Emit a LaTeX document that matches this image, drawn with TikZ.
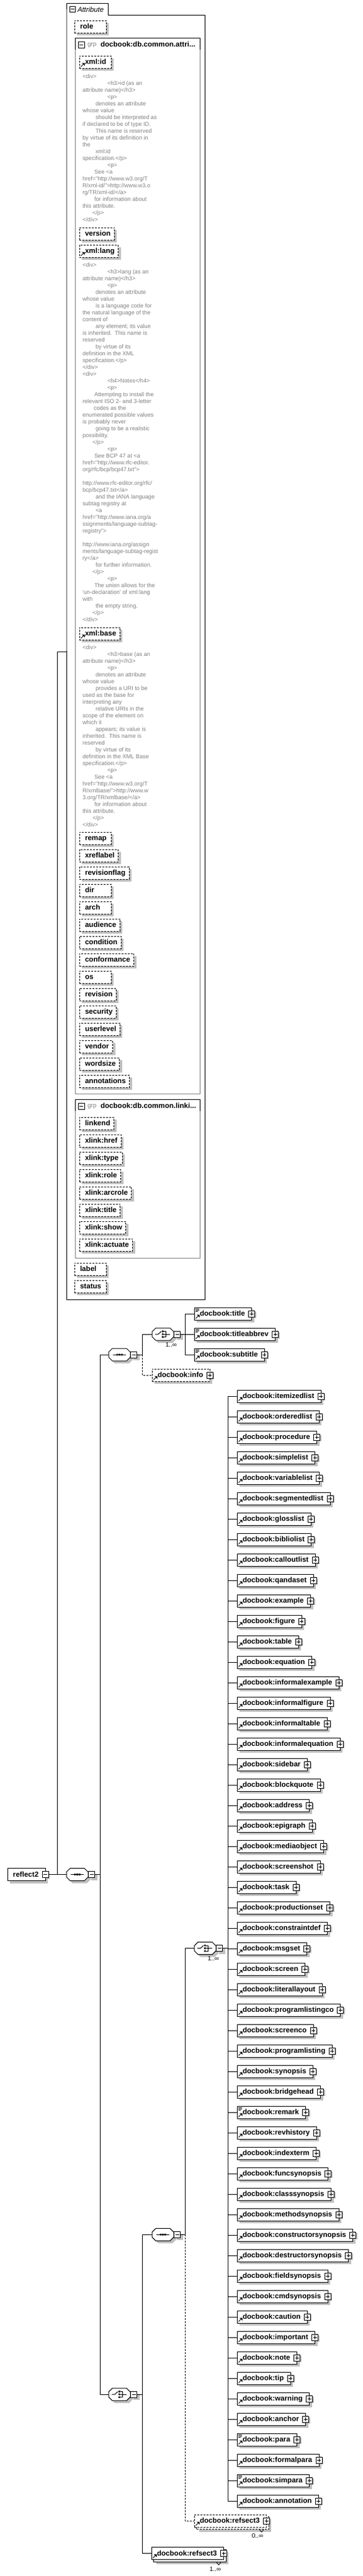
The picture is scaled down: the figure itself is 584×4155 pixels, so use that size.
\documentclass[tikz,border=0pt]{standalone}
\usepackage{fontspec}
\setmainfont{Liberation Sans}
\usetikzlibrary{calc}
\definecolor{shadowgray}{RGB}{192,192,192}
\definecolor{docgray}{RGB}{128,128,128}
\definecolor{grpgray}{RGB}{128,128,128}
\newcommand\elfont{\fontsize{11.6pt}{13pt}\selectfont\bfseries}
\newcommand\docfont{\fontsize{9.2pt}{11pt}\selectfont}
\newcommand\grpfont{\fontsize{10pt}{12pt}\selectfont}
\newlength\tmpw
\newcommand\attrtext[1]{\settowidth\tmpw{#1}\hspace*{9pt}#1\ifdim\tmpw<36pt\hspace*{\dimexpr36pt-\tmpw\relax}\fi\hspace*{6pt}}
\newcommand\eltext[1]{\hspace*{9pt}#1\hspace*{11pt}}
\newcounter{dlc}
\tikzset{
  every node/.append style={inner sep=0pt, outer sep=0pt},
  doc/.style={anchor=base west, font=\docfont, text=docgray},
  boxbase/.style={minimum height=20pt, text height=8.5pt, text depth=1.4pt, anchor=west, font=\elfont},
  elbox/.style={boxbase, draw, line width=1pt, fill=white},
  shbox/.style={boxbase, fill=shadowgray, text=shadowgray},
  backbox/.style={boxbase, draw, line width=1pt, fill=white, text opacity=0},
  opt/.style={dash pattern=on 3pt off 2pt},
  btn/.style={draw, line width=1pt, fill=white, minimum size=10pt},
  btnsh/.style={fill=shadowgray, minimum size=10pt},
  conn/.style={line width=1pt},
  optconn/.style={line width=1pt, dash pattern=on 3pt off 2pt},
  lbl/.style={font=\fontsize{10pt}{12pt}\selectfont},
  txt/.style={anchor=west, text height=8.5pt, text depth=1.4pt},
}
\newcommand\dl[3]{\stepcounter{dlc}\node[doc] (dl\arabic{dlc}) at (#1,#2+3.3) {#3};}
\newcommand\refarrow[1]{%
  \draw[line width=0.9pt] ([shift={(2.5,-2.5)}]#1.south west) -- ([shift={(6,-6)}]#1.south west);
  \fill ([shift={(8.5,-8.5)}]#1.south west) -- ([shift={(4,-8.5)}]#1.south west) -- ([shift={(8.5,-4)}]#1.south west) -- cycle;}
\newcommand\mixicon[1]{\draw[line width=0.8pt] ([shift={(2,2.5)}]#1.north west) -- ++(6,0) ([shift={(2,4.5)}]#1.north west) -- ++(6,0) ([shift={(2,6.5)}]#1.north west) -- ++(4,0);}
\newcommand\plusin[1]{\draw[line width=1pt] ([xshift=-3pt]#1.center) -- ([xshift=3pt]#1.center) ([yshift=-3pt]#1.center) -- ([yshift=3pt]#1.center);}
% element: [style]{name}{x}{ycenter}{text}
\newcommand\elem[5][]{%
  \node[shbox] (#2s) at (#3+4,#4+4) {\eltext{#5}};
  \node[btnsh] at ([shift={(-2,-2)}]#2s.east) {};
  \node[elbox,#1] (#2) at (#3,#4) {\eltext{#5}};
  \node[btn] (#2b) at (#2.east) {};
  \plusin{#2b}
  \refarrow{#2}}
% repeated element
\newcommand\multielem[5][]{%
  \node[shbox] (#2s) at (#3+7.5,#4+7.5) {\eltext{#5}};
  \node[btnsh] at ([shift={(-5.5,-5.5)}]#2s.east) {};
  \node[backbox,#1] (#2k) at (#3+3.5,#4+3.5) {\eltext{#5}};
  \node[elbox,#1] (#2) at (#3,#4) {\eltext{#5}};
  \node[btn] (#2b) at (#2.east) {};
  \plusin{#2b}
  \refarrow{#2}}
% attribute: {name}{x}{ytop}{text}
\newcommand\attr[4]{%
  \node[shbox] at (#2+4,#3+14) {\attrtext{#4}};
  \node[elbox,opt] (#1) at (#2,#3+10) {\attrtext{#4}};}
\newcommand\octdraw[1]{\path[#1] (0,-4) -- (6,-10) -- (29,-10) -- (35,-4) -- (35,4) -- (29,10) -- (6,10) -- (0,4) -- cycle;}
\newcommand\seqicon{\draw[line width=1pt] (7,0) -- (28,0); \fill (12.5,-1.4) rectangle (15.1,1.4) (16.2,-1.4) rectangle (18.8,1.4) (19.9,-1.4) rectangle (22.5,1.4);}
\newcommand\choicon{\draw[line width=1pt] (5,0) -- (10,0) -- (15,-4.5); \fill (16,-5.8) rectangle (18.6,-3.2) (16,-1.3) rectangle (18.6,1.3) (16,3.2) rectangle (18.6,5.8); \draw[line width=1pt] (19,-4.5) -- (22,-4.5) -- (22,4.5) -- (19,4.5) (19,0) -- (29,0);}
% compositor: {name}{x}{y}{icon}
\newcommand\comp[4]{%
  \begin{scope}[shift={(#2,#3)}]
    \octdraw{fill=shadowgray, shift={(4,4)}}
    \node[btnsh] at (44.5,4) {};
    \octdraw{draw, fill=white, line width=1pt}
    \node[minimum width=35pt, minimum height=20pt, anchor=west] (#1) at (0,0) {};
    #4
    \node[btn] (#1m) at (40.5,0) {};
    \draw[line width=1pt] (37.5,0) -- (43.5,0);
  \end{scope}}
\begin{document}
\begin{tikzpicture}[x=1pt,y=-1pt]
\fill[white] (0,0) rectangle (584,4155);
\useasboundingbox (0,0) rectangle (584,4155);

% ===== attribute frame =====
\draw[line width=1pt] (107,24) -- (107,2096) -- (330,2096) -- (330,24) -- (174,24) -- (174,5) -- (107,5) -- cycle;
\node[btn, minimum size=9pt] (atb) at (117,14.5) {};
\draw[line width=1pt] (114,14.5) -- (120,14.5);
\node[anchor=west, font=\fontsize{11.3pt}{13pt}\selectfont\itshape, text height=8pt, text depth=0pt] (attit) at (125,15) {Attribute};
\coordinate (attrL) at (107,1051);

\attr{arole}{120}{33}{role}

% group 1
\draw[grpgray, line width=1pt] (121,61) rectangle (322,1764);
\draw[line width=1pt] (121,80) -- (121,61) -- (322,61) -- (322,80);
\node[btn] (g1b) at (131,72) {};
\draw[line width=1pt] (128,72) -- (134,72);
\node[anchor=west, font=\grpfont, text=docgray, text height=7pt, text depth=1.2pt] (g1grp) at (141,72) {grp};
\node[txt, font=\elfont] (g1name) at (162,72) {docbook:db.common.attri...};

\attr{axmlid}{128}{90}{xml:id}\refarrow{axmlid}
\dl{133}{123}{<div>}
\dl{173}{134}{<h3>id (as an}
\dl{133}{145}{attribute name)</h3>}
\dl{173}{156}{<p>}
\dl{154}{167}{denotes an attribute}
\dl{133}{178}{whose value}
\dl{154}{189}{should be interpreted as}
\dl{133}{200}{if declared to be of type ID.}
\dl{154}{211}{This name is reserved}
\dl{133}{222}{by virtue of its definition in}
\dl{133}{233}{the}
\dl{154}{244}{xml:id}
\dl{133}{255}{specification.</p>}
\dl{173}{266}{<p>}
\dl{152}{277}{See <a}
\dl{133}{288}{href="http://www.w3.org/T}
\dl{133}{299}{R/xml-id/">http://www.w3.o}
\dl{133}{310}{rg/TR/xml-id/</a>}
\dl{152}{321}{for information about}
\dl{133}{332}{this attribute.}
\dl{149}{343}{</p>}
\dl{133}{354}{</div>}

\attr{aversion}{128}{367}{version}
\attr{axmllang}{128}{395}{xml:lang}\refarrow{axmllang}
\dl{133}{427}{<div>}
\dl{173}{438}{<h3>lang (as an}
\dl{133}{449}{attribute name)</h3>}
\dl{173}{460}{<p>}
\dl{154}{471}{denotes an attribute}
\dl{133}{482}{whose value}
\dl{154}{493}{is a language code for}
\dl{133}{504}{the natural language of the}
\dl{133}{515}{content of}
\dl{154}{526}{any element; its value}
\dl{133}{537}{is inherited.\ \ This name is}
\dl{133}{548}{reserved}
\dl{154}{559}{by virtue of its}
\dl{133}{570}{definition in the XML}
\dl{133}{581}{specification.</p>}
\dl{133}{592}{</div>}
\dl{133}{603}{<div>}
\dl{173}{614}{<h4>Notes</h4>}
\dl{173}{625}{<p>}
\dl{152}{636}{Attempting to install the}
\dl{133}{647}{relevant ISO 2- and 3-letter}
\dl{151}{658}{codes as the}
\dl{133}{669}{enumerated possible values}
\dl{133}{680}{is probably never}
\dl{154}{691}{going to be a realistic}
\dl{133}{702}{possibility.}
\dl{149}{713}{</p>}
\dl{173}{724}{<p>}
\dl{152}{735}{See BCP 47 at <a}
\dl{133}{746}{href="http://www.rfc-editor.}
\dl{133}{757}{org/rfc/bcp/bcp47.txt">}
\dl{133}{779}{http://www.rfc-editor.org/rfc/}
\dl{133}{790}{bcp/bcp47.txt</a>}
\dl{154}{801}{and the IANA language}
\dl{133}{812}{subtag registry at}
\dl{154}{823}{<a}
\dl{133}{834}{href="http://www.iana.org/a}
\dl{133}{845}{ssignments/language-subtag-}
\dl{133}{856}{registry">}
\dl{133}{878}{http://www.iana.org/assign}
\dl{133}{889}{ments/language-subtag-regist}
\dl{133}{900}{ry</a>}
\dl{154}{911}{for further information.}
\dl{149}{922}{</p>}
\dl{173}{933}{<p>}
\dl{152}{944}{The union allows for the}
\dl{133}{955}{\textquotesingle un-declaration\textquotesingle\ of xml:lang}
\dl{133}{966}{with}
\dl{154}{977}{the empty string.}
\dl{149}{988}{</p>}
\dl{133}{999}{</div>}

\attr{axmlbase}{128}{1012}{xml:base}\refarrow{axmlbase}
\dl{133}{1044}{<div>}
\dl{173}{1055}{<h3>base (as an}
\dl{133}{1066}{attribute name)</h3>}
\dl{173}{1077}{<p>}
\dl{154}{1088}{denotes an attribute}
\dl{133}{1099}{whose value}
\dl{154}{1110}{provides a URI to be}
\dl{133}{1121}{used as the base for}
\dl{133}{1132}{interpreting any}
\dl{154}{1143}{relative URIs in the}
\dl{133}{1154}{scope of the element on}
\dl{133}{1165}{which it}
\dl{154}{1176}{appears; its value is}
\dl{133}{1187}{inherited.\ \ This name is}
\dl{133}{1198}{reserved}
\dl{154}{1209}{by virtue of its}
\dl{133}{1220}{definition in the XML Base}
\dl{133}{1231}{specification.</p>}
\dl{173}{1242}{<p>}
\dl{152}{1253}{See <a}
\dl{133}{1264}{href="http://www.w3.org/T}
\dl{133}{1275}{R/xmlbase/">http://www.w}
\dl{133}{1286}{3.org/TR/xmlbase/</a>}
\dl{152}{1297}{for information about}
\dl{133}{1308}{this attribute.}
\dl{149}{1319}{</p>}
\dl{133}{1330}{</div>}

\foreach \nm/\yy [count=\k] in {remap/1342, xreflabel/1370, revisionflag/1398, dir/1426, arch/1454, audience/1482, condition/1510, conformance/1538, os/1566, revision/1594, security/1622, userlevel/1650, vendor/1678, wordsize/1706, annotations/1734}
  {\attr{ga\k}{128}{\yy}{\nm}}

% group 2
\draw[grpgray, line width=1pt] (121,1773) rectangle (322,2029);
\draw[line width=1pt] (121,1792) -- (121,1773) -- (322,1773) -- (322,1792);
\node[btn] (g2b) at (131,1784) {};
\draw[line width=1pt] (128,1784) -- (134,1784);
\node[anchor=west, font=\grpfont, text=docgray, text height=7pt, text depth=1.2pt] (g2grp) at (141,1784) {grp};
\node[txt, font=\elfont] (g2name) at (162,1784) {docbook:db.common.linki...};
\foreach \nm/\yy [count=\k] in {linkend/1802, xlink:href/1830, xlink:type/1858, xlink:role/1886, xlink:arcrole/1914, xlink:title/1942, xlink:show/1970, xlink:actuate/1998}
  {\attr{gb\k}{128}{\yy}{\nm}}

\attr{alabel}{120}{2037}{label}
\attr{astatus}{120}{2065}{status}

% ===== root element =====
\node[shbox] (r2s) at (16,3027.5) {\eltext{reflect2}};
\node[btnsh] at ([shift={(-2,-2)}]r2s.east) {};
\node[elbox] (r2) at (12,3023.5) {\eltext{reflect2}};
\node[btn] (r2b) at (r2.east) {};
\draw[line width=1pt] ([xshift=-3pt]r2b.center) -- ([xshift=3pt]r2b.center);

% ===== compositors =====
\comp{S0}{107}{3023.5}{\seqicon}
\comp{S1}{175}{2185}{\seqicon}
\comp{C1}{245}{2152}{\choicon}
\comp{C2}{175}{3862}{\choicon}
\comp{S2}{245}{3604.25}{\seqicon}
\comp{C3}{313}{3142.5}{\choicon}

% ===== title part =====
\elem{t1}{313}{2119}{docbook:title}\mixicon{t1}
\elem{t2}{313}{2152}{docbook:titleabbrev}\mixicon{t2}
\elem{t3}{313}{2185}{docbook:subtitle}\mixicon{t3}
\elem[opt]{info}{245}{2218}{docbook:info}
\node[lbl, anchor=north east] (C1l) at (285,2166) {1..∞};

% ===== block list =====
\foreach \nm [count=\i from 0] in {itemizedlist,orderedlist,procedure,simplelist,variablelist,segmentedlist,glosslist,bibliolist,calloutlist,qandaset,example,figure,table,equation,informalexample,informalfigure,informaltable,informalequation,sidebar,blockquote,address,epigraph,mediaobject,screenshot,task,productionset,constraintdef,msgset,screen,literallayout,programlistingco,screenco,programlisting,synopsis,bridgehead,remark,revhistory,indexterm,funcsynopsis,classsynopsis,methodsynopsis,constructorsynopsis,destructorsynopsis,fieldsynopsis,cmdsynopsis,caution,important,note,tip,warning,anchor,para,formalpara,simpara,annotation}
  {\elem{e\i}{382}{2252+33*\i}{docbook:\nm}}
\foreach \k in {35,51,53} {\mixicon{e\k}}
\node[lbl, anchor=north east] (C3l) at (353,3156) {1..∞};

% ===== refsect3 =====
\multielem[opt]{rsa}{313}{4066}{docbook:refsect3}
\draw[line width=0.8pt] (418,4080) -- (421.5,4084) -- (425,4080);
\node[lbl] (rsal) at (415,4090) {0..∞};
\multielem{rsb}{244}{4118.5}{docbook:refsect3}
\draw[line width=0.8pt] (349,4133) -- (352.5,4137) -- (356,4133);
\node[lbl] (rsbl) at (347,4144) {1..∞};

% ===== connectors =====
\coordinate (attrj) at (92,3023.5);
\draw[conn] (r2b.east) -- (S0.west);
\draw[conn] (attrj) |- (attrL);

\coordinate (b0) at (161,3023.5);
\draw[conn] (S0m.east) -- (b0);
\draw[conn] (b0) |- (S1.west);
\draw[conn] (b0) |- (C2.west);

\coordinate (b1) at (229,2185);
\draw[conn] (S1m.east) -- (b1);
\draw[conn] (b1) |- (C1.west);
\draw[optconn] (b1) |- (info.west);

\coordinate (b2) at (298,2152);
\draw[conn] (C1m.east) -- (b2);
\draw[conn] (b2) |- (t1.west);
\draw[conn] (b2) |- (t2.west);
\draw[conn] (b2) |- (t3.west);

\coordinate (b3) at (229,3862);
\draw[conn] (C2m.east) -- (b3);
\draw[conn] (b3) |- (S2.west);
\draw[conn] (b3) |- (rsb.west);

\coordinate (b4) at (298,3604.25);
\draw[conn] (S2m.east) -- (b4);
\draw[conn] (b4) |- (C3.west);
\draw[optconn] (b4) |- (rsa.west);

\coordinate (b5) at (367,3142.5);
\draw[conn] (C3m.east) -- (b5);
\foreach \i in {0,...,54} {\draw[conn] (b5) |- (e\i.west);}
\end{tikzpicture}
\end{document}
